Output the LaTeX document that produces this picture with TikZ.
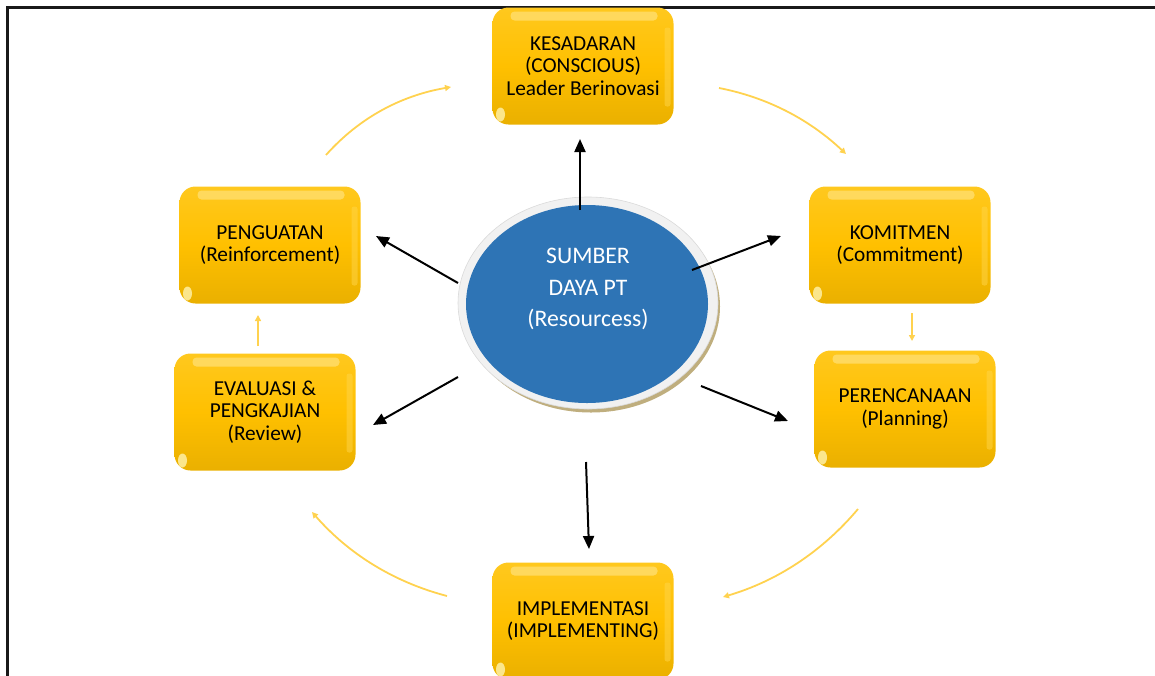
\documentclass[tikz,border=0pt]{standalone}
\usepackage{fontspec}
\setmainfont{Carlito}
\usetikzlibrary{arrows.meta,shadings}
\definecolor{boxbot}{HTML}{EAB000}
\definecolor{boxmid}{HTML}{FFC000}
\definecolor{boxtop}{HTML}{FFC81E}
\definecolor{boxhi}{HTML}{FFE27A}
\definecolor{boxside}{HTML}{FFD54A}
\definecolor{glintcol}{HTML}{FFF3B0}
\definecolor{ringcol}{HTML}{F1F1F1}
\definecolor{ringedge}{HTML}{DADADA}
\definecolor{shadowcol}{HTML}{BFAE7E}
\definecolor{bluecol}{HTML}{2E74B5}
\definecolor{cyclecol}{HTML}{FFD24F}
\newcommand{\boxfont}{\fontsize{21.3}{22.5}\selectfont}
\newcommand{\ellfont}{\fontsize{23.7}{31.5}\selectfont}
\tikzset{
  gloss/.style={fill=boxhi, opacity=0.7, rounded corners=4pt},
  side/.style={fill=boxside, opacity=0.5, rounded corners=2.5pt},
  glint/.style={fill=glintcol, opacity=0.8},
  box/.style={rounded corners=16pt, minimum width=181pt, minimum height=117pt,
    top color=boxtop, bottom color=boxbot, middle color=boxmid,
    align=center, font=\boxfont, text=black, inner sep=0pt,
    path picture={
      \fill[gloss] ([shift={(18,4)}]path picture bounding box.north west) rectangle ([shift={(-16,13)}]path picture bounding box.north east);
      \fill[side] ([shift={(-9,20)}]path picture bounding box.north east) rectangle ([shift={(-3,-18)}]path picture bounding box.south east);
      \fill[glint] ([shift={(8,-10)}]path picture bounding box.south west) ellipse [x radius=4.5, y radius=7];
    }},
  spoke/.style={line width=2pt, black, -{Triangle[length=13pt,width=11pt]}},
  cycle/.style={line width=1.8pt, cyclecol, -{Triangle[length=6pt,width=6pt]}},
}
\begin{document}
\begin{tikzpicture}[x=1pt,y=-1pt]
\useasboundingbox (0,0) rectangle (1155,675);
% frame
\draw[line width=3pt, black!90] (7.5,680) -- (7.5,7.5) -- (1160,7.5);

% centre ellipse
\fill[shadowcol] (591,306.5) ellipse [x radius=129, y radius=106];
\filldraw[fill=ringcol, draw=ringedge, line width=0.6pt] (588,303) ellipse [x radius=130, y radius=106];
\fill[bluecol] (587,304) ellipse [x radius=121, y radius=99];
\node[text=white, align=center, font=\ellfont] (c) at (588,289) {SUMBER\\DAYA PT\\(Resourcess)};

% boxes
\node[box] (kes) at (583,66) {KESADARAN\\(CONSCIOUS)\\Leader Berinovasi};
\node[box] (kom) at (900,245) {KOMITMEN\\(Commitment)};
\node[box] (per) at (905,409) {PERENCANAAN\\(Planning)};
\node[box] (imp) at (583,621) {IMPLEMENTASI\\(IMPLEMENTING)};
\node[box] (eva) at (265,412) {EVALUASI \&\\PENGKAJIAN\\(Review)};
\node[box] (pen) at (270,245) {PENGUATAN\\(Reinforcement)};

% spoke coordinates
\coordinate (s1) at (580,210); \coordinate (e1) at (580,139);
\coordinate (s2) at (692,270); \coordinate (e2) at (781,236);
\coordinate (s3) at (701,386); \coordinate (e3) at (788,421);
\coordinate (s4) at (586,462); \coordinate (e4) at (589,549);
\coordinate (s5) at (458,377); \coordinate (e5) at (373,425);
\coordinate (s6) at (458,283); \coordinate (e6) at (376,236);
\draw[spoke] (s1) -- (e1);
\draw[spoke] (s2) -- (e2);
\draw[spoke] (s3) -- (e3);
\draw[spoke] (s4) -- (e4);
\draw[spoke] (s5) -- (e5);
\draw[spoke] (s6) -- (e6);

% cycle coordinates
\coordinate (p1) at (326,155); \coordinate (q1) at (451,87);
\coordinate (p2) at (719,88);  \coordinate (q2) at (846,154);
\coordinate (p3) at (912,313); \coordinate (q3) at (912,341);
\coordinate (p4) at (858,509); \coordinate (q4) at (723,597);
\coordinate (p5) at (447,596); \coordinate (q5) at (312,512);
\coordinate (p6) at (258,346); \coordinate (q6) at (258,315);
\draw[cycle] (p1) .. controls (358.7,118.3) and (400.3,95.7) .. (q1);
\draw[cycle] (p2) .. controls (767,97.3) and (809.3,119.3) .. (q2);
\draw[cycle] (p3) -- (q3);
\draw[cycle] (p4) .. controls (822,551.7) and (777,581) .. (q4);
\draw[cycle] (p5) .. controls (393.7,582) and (348.7,554) .. (q5);
\draw[cycle] (p6) -- (q6);
\end{tikzpicture}
\end{document}
